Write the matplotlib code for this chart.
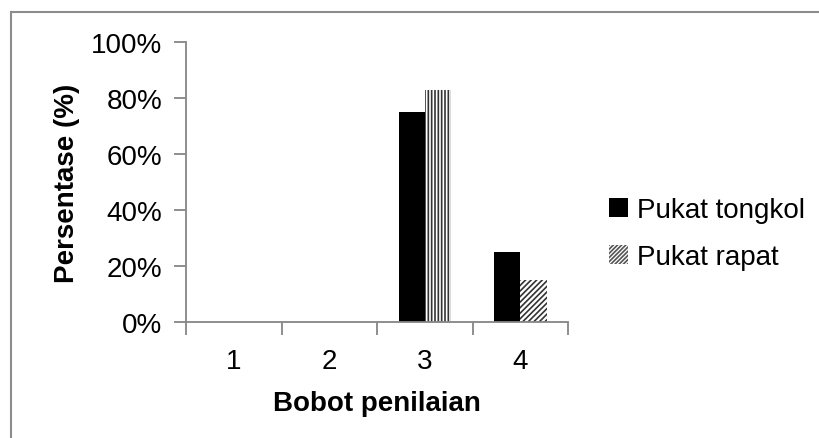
import matplotlib.pyplot as plt
import numpy as np
from matplotlib.patches import Patch
from matplotlib.lines import Line2D

plt.rcParams['font.family'] = ['Liberation Sans', 'DejaVu Sans']
plt.rcParams['hatch.linewidth'] = 1.2

categories = ['1', '2', '3', '4']
pukat_tongkol = [0, 0, 75, 25]
pukat_rapat = [0, 0, 83, 15]
rapat_hatch = ['|||||', '|||||', '|||||', '//////']
series_names = ['Pukat tongkol', 'Pukat rapat']

fs = 20

fig = plt.figure(figsize=(8.2, 4.39), dpi=100)
ax = fig.add_axes([0.2268, 0.2642, 0.466, 0.6378])

x = np.arange(len(categories))
w = 0.275
ax.bar(x - w / 2, pukat_tongkol, w, color='black', linewidth=0)
bars = ax.bar(x + w / 2, pukat_rapat, w, color='white', edgecolor='#333333', linewidth=0)
for b, h in zip(bars, rapat_hatch):
    b.set_hatch(h)

ax.set_xlim(-0.5, len(categories) - 0.5)
ax.set_ylim(0, 100)
ax.set_yticks(range(0, 101, 20))
ax.set_yticklabels([f'{v}%' for v in range(0, 101, 20)])
ax.set_xticks(x)
ax.set_xticklabels(categories)
ax.set_xticks(np.arange(len(categories) + 1) - 0.5, minor=True)
ax.tick_params(axis='x', which='major', length=0, pad=19, labelsize=fs)
ax.tick_params(axis='x', which='minor', length=9, color='#868686', width=1.3)
ax.tick_params(axis='y', length=9, color='#868686', width=1.3, pad=8, labelsize=fs)

for s in ['top', 'right']:
    ax.spines[s].set_visible(False)
for s in ['left', 'bottom']:
    ax.spines[s].set_color('#868686')
    ax.spines[s].set_linewidth(1.3)

ax.set_xlabel('Bobot penilaian', fontsize=fs, fontweight='bold', labelpad=11)
ax.set_ylabel('Persentase (%)', fontsize=fs, fontweight='bold', labelpad=8)

handles = [Patch(facecolor='black', linewidth=0),
           Patch(facecolor='white', edgecolor='#555555', hatch='////////', linewidth=0)]
fig.legend(handles, series_names, loc='upper left', bbox_to_anchor=(0.729, 0.574),
           frameon=False, fontsize=fs, handlelength=0.7, handleheight=0.7,
           handletextpad=0.3, labelspacing=0.75, borderaxespad=0)

# outer chart border (only top and left edges are visible)
fig.add_artist(Line2D([11 / 820, 1], [1 - 12.5 / 439] * 2, color='#8c8c8c', lw=1.5))
fig.add_artist(Line2D([11 / 820] * 2, [0, 1 - 12.5 / 439], color='#8c8c8c', lw=1.5))

fig.savefig('out.png', dpi=100)
